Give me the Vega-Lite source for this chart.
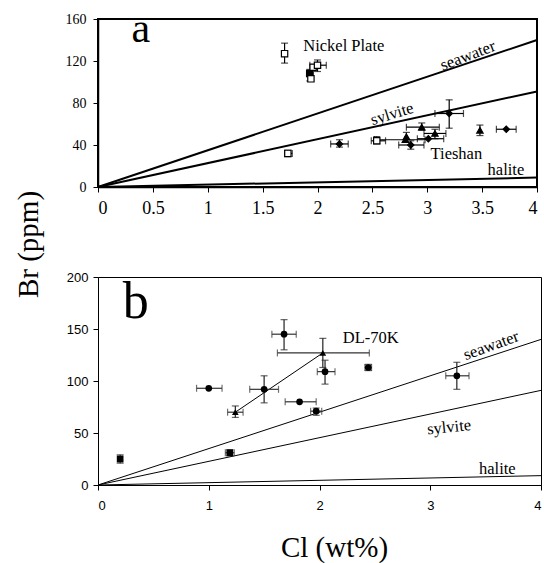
{
  "$schema": "https://vega.github.io/schema/vega-lite/v6.json",
  "padding": {"left": 13, "top": 7, "right": 0, "bottom": 0},
  "datasets": {
    "models": [
      {"mineral": "seawater", "cl": 0, "br": 0},
      {"mineral": "seawater", "cl": 4, "br": 140},
      {"mineral": "sylvite", "cl": 0, "br": 0},
      {"mineral": "sylvite", "cl": 4, "br": 91},
      {"mineral": "halite", "cl": 0, "br": 0},
      {"mineral": "halite", "cl": 4, "br": 9}
    ],
    "a": [
      {"x": 1.70, "y": 127, "xlo": null, "xhi": null, "ylo": 118, "yhi": 137, "kind": "NP"},
      {"x": 1.93, "y": 108, "xlo": 1.90, "xhi": 1.96, "ylo": 101, "yhi": 112, "kind": "NPf"},
      {"x": 1.96, "y": 114, "xlo": null, "xhi": null, "ylo": null, "yhi": null, "kind": "NP"},
      {"x": 2.00, "y": 116, "xlo": 1.93, "xhi": 2.08, "ylo": 110, "yhi": 121, "kind": "NP"},
      {"x": 1.94, "y": 103, "xlo": null, "xhi": null, "ylo": null, "yhi": null, "kind": "NP"},
      {"x": 1.73, "y": 32, "xlo": 1.70, "xhi": 1.77, "ylo": 29, "yhi": 35, "kind": "NP"},
      {"x": 2.54, "y": 44, "xlo": 2.49, "xhi": 2.62, "ylo": 41, "yhi": 48, "kind": "NP"},
      {"x": 2.20, "y": 41, "xlo": 2.12, "xhi": 2.28, "ylo": 38, "yhi": 45, "kind": "TSd"},
      {"x": 2.95, "y": 57, "xlo": 2.81, "xhi": 3.11, "ylo": 54, "yhi": 61, "kind": "TSt"},
      {"x": 2.80, "y": 45, "xlo": 2.52, "xhi": 2.98, "ylo": null, "yhi": null, "kind": "TSt"},
      {"x": 2.85, "y": 40, "xlo": 2.74, "xhi": 2.97, "ylo": 36, "yhi": 44, "kind": "TSd"},
      {"x": 2.81, "y": 48, "xlo": null, "xhi": null, "ylo": 43, "yhi": 52, "kind": "TSt"},
      {"x": 3.01, "y": 46, "xlo": 2.91, "xhi": 3.15, "ylo": null, "yhi": null, "kind": "TSd"},
      {"x": 3.07, "y": 51, "xlo": 2.97, "xhi": 3.17, "ylo": 46, "yhi": 55, "kind": "TSt"},
      {"x": 3.20, "y": 70, "xlo": 3.07, "xhi": 3.33, "ylo": 56, "yhi": 83, "kind": "TSd"},
      {"x": 3.48, "y": 54, "xlo": null, "xhi": null, "ylo": 49, "yhi": 59, "kind": "TSt"},
      {"x": 3.72, "y": 55, "xlo": 3.63, "xhi": 3.81, "ylo": null, "yhi": null, "kind": "TSd"}
    ],
    "b": [
      {"x": 0.20, "y": 25, "xlo": 0.18, "xhi": 0.22, "ylo": 21, "yhi": 29, "kind": "sq"},
      {"x": 1.19, "y": 31, "xlo": 1.15, "xhi": 1.23, "ylo": 28, "yhi": 34, "kind": "sq"},
      {"x": 1.00, "y": 93, "xlo": 0.89, "xhi": 1.12, "ylo": null, "yhi": null, "kind": "circ"},
      {"x": 1.24, "y": 70, "xlo": 1.17, "xhi": 1.31, "ylo": 65, "yhi": 76, "kind": "tri"},
      {"x": 1.50, "y": 92, "xlo": 1.37, "xhi": 1.63, "ylo": 79, "yhi": 105, "kind": "circ"},
      {"x": 1.68, "y": 145, "xlo": 1.57, "xhi": 1.79, "ylo": 130, "yhi": 159, "kind": "circ"},
      {"x": 1.82, "y": 80, "xlo": 1.69, "xhi": 1.97, "ylo": null, "yhi": null, "kind": "circ"},
      {"x": 1.97, "y": 71, "xlo": 1.92, "xhi": 2.02, "ylo": 67, "yhi": 74, "kind": "circ"},
      {"x": 2.03, "y": 127, "xlo": 1.62, "xhi": 2.45, "ylo": 113, "yhi": 141, "kind": "tri"},
      {"x": 2.05, "y": 109, "xlo": 1.98, "xhi": 2.14, "ylo": 97, "yhi": 120, "kind": "circ"},
      {"x": 2.44, "y": 113, "xlo": 2.41, "xhi": 2.47, "ylo": 110, "yhi": 116, "kind": "circ"},
      {"x": 3.24, "y": 105, "xlo": 3.14, "xhi": 3.35, "ylo": 92, "yhi": 118, "kind": "circ"}
    ]
  },
  "vconcat": [
    {
      "width": 439,
      "height": 168,
      "view": {"stroke": "black", "strokeWidth": 2},
      "layer": [
        {
          "data": {"name": "models"},
          "mark": {"type": "line", "color": "black", "strokeWidth": 2},
          "encoding": {
            "x": {"field": "cl", "type": "quantitative", "scale": {"domain": [0, 4]},
              "axis": {"values": [0, 0.5, 1, 1.5, 2, 2.5, 3, 3.5, 4], "format": "~g", "title": null,
                "labelFont": "Liberation Sans Narrow", "labelFontSize": 18, "tickSize": 5, "labelPadding": 7, "domainWidth": 1.5}},
            "y": {"field": "br", "type": "quantitative", "scale": {"domain": [0, 160]},
              "axis": {"values": [0, 40, 80, 120, 160], "format": "d", "title": null,
                "labelFont": "Liberation Sans Narrow", "labelFontSize": 14, "tickSize": 5, "labelPadding": 7, "domainWidth": 1.5}},
            "detail": {"field": "mineral"}
          }
        },
        {
          "data": {"name": "a"},
          "transform": [{"filter": "isValid(datum.xlo)"}],
          "mark": {"type": "errorbar", "color": "black", "thickness": 1.2, "ticks": {"size": 7, "thickness": 1.2}},
          "encoding": {
            "x": {"field": "xlo", "type": "quantitative"},
            "x2": {"field": "xhi"},
            "y": {"field": "y", "type": "quantitative"}
          }
        },
        {
          "data": {"name": "a"},
          "transform": [{"filter": "isValid(datum.ylo)"}],
          "mark": {"type": "errorbar", "color": "black", "thickness": 1.2, "ticks": {"size": 7, "thickness": 1.2}},
          "encoding": {
            "y": {"field": "ylo", "type": "quantitative"},
            "y2": {"field": "yhi"},
            "x": {"field": "x", "type": "quantitative"}
          }
        },
        {
          "data": {"name": "a"},
          "mark": {"type": "point", "filled": true, "stroke": "black", "strokeWidth": 1.2, "size": 40, "opacity": 1},
          "encoding": {
            "x": {"field": "x", "type": "quantitative"},
            "y": {"field": "y", "type": "quantitative"},
            "shape": {"field": "kind", "type": "nominal", "legend": null,
              "scale": {"domain": ["NP", "NPf", "TSd", "TSt"], "range": ["square", "square", "diamond", "triangle-up"]}},
            "fill": {"field": "kind", "type": "nominal", "legend": null,
              "scale": {"domain": ["NP", "NPf", "TSd", "TSt"], "range": ["white", "black", "black", "black"]}}
          }
        },
        {
          "data": {"values": [{"t": "a", "x": 0.39, "y": 138}]},
          "mark": {"type": "text", "font": "Liberation Serif", "fontSize": 42, "align": "center", "baseline": "alphabetic", "color": "black"},
          "encoding": {"x": {"field": "x", "type": "quantitative"}, "y": {"field": "y", "type": "quantitative"}, "text": {"field": "t"}}
        },
        {
          "data": {"values": [{"t": "Nickel Plate", "x": 1.87, "y": 130}, {"t": "Tieshan", "x": 3.03, "y": 27}, {"t": "halite", "x": 3.55, "y": 11.5}]},
          "mark": {"type": "text", "font": "Liberation Serif", "fontSize": 16.5, "align": "left", "baseline": "alphabetic", "color": "black"},
          "encoding": {"x": {"field": "x", "type": "quantitative"}, "y": {"field": "y", "type": "quantitative"}, "text": {"field": "t"}}
        },
        {
          "data": {"values": [{"t": "seawater", "x": 3.37, "y": 125}]},
          "mark": {"type": "text", "font": "Liberation Serif", "fontSize": 16.5, "align": "center", "baseline": "middle", "angle": -21, "color": "black"},
          "encoding": {"x": {"field": "x", "type": "quantitative"}, "y": {"field": "y", "type": "quantitative"}, "text": {"field": "t"}}
        },
        {
          "data": {"values": [{"t": "sylvite", "x": 2.68, "y": 69.5}]},
          "mark": {"type": "text", "font": "Liberation Serif", "fontSize": 16.5, "align": "center", "baseline": "middle", "angle": -17, "color": "black"},
          "encoding": {"x": {"field": "x", "type": "quantitative"}, "y": {"field": "y", "type": "quantitative"}, "text": {"field": "t"}}
        }
      ]
    },
    {
      "width": 443,
      "height": 208,
      "view": {"stroke": "black", "strokeWidth": 1},
      "layer": [
        {
          "data": {"name": "models"},
          "mark": {"type": "line", "color": "black", "strokeWidth": 1},
          "encoding": {
            "x": {"field": "cl", "type": "quantitative", "title": "Cl (wt%)", "scale": {"domain": [0, 4]},
              "axis": {"values": [0, 1, 2, 3, 4], "format": "d", "titleFont": "Liberation Serif", "titleFontSize": 29,
                "titleX": 236, "titleY": 71, "titleBaseline": "alphabetic", "titleAlign": "center",
                "labelFont": "Liberation Sans", "labelFontSize": 13, "tickSize": 5, "labelPadding": 9}},
            "y": {"field": "br", "type": "quantitative", "title": "Br (ppm)", "scale": {"domain": [0, 200]},
              "axis": {"values": [0, 50, 100, 150, 200], "format": "d", "titleFont": "Liberation Serif", "titleFontSize": 29,
                "titleX": -70, "titleY": -33, "titleBaseline": "middle", "titleAlign": "center",
                "labelFont": "Liberation Sans", "labelFontSize": 13, "tickSize": 5, "labelPadding": 5}},
            "detail": {"field": "mineral"}
          }
        },
        {
          "data": {"name": "b"},
          "transform": [{"filter": "datum.kind == 'tri'"}],
          "mark": {"type": "line", "color": "black", "strokeWidth": 1},
          "encoding": {
            "x": {"field": "x", "type": "quantitative", "title": "Cl (wt%)"},
            "y": {"field": "y", "type": "quantitative", "title": "Br (ppm)"}
          }
        },
        {
          "data": {"name": "b"},
          "transform": [{"filter": "isValid(datum.xlo)"}],
          "mark": {"type": "errorbar", "color": "#333333", "thickness": 1.2, "ticks": {"size": 7, "thickness": 1.2}},
          "encoding": {
            "x": {"field": "xlo", "type": "quantitative", "title": "Cl (wt%)"},
            "x2": {"field": "xhi"},
            "y": {"field": "y", "type": "quantitative", "title": "Br (ppm)"}
          }
        },
        {
          "data": {"name": "b"},
          "transform": [{"filter": "isValid(datum.ylo)"}],
          "mark": {"type": "errorbar", "color": "#222222", "thickness": 1.2, "ticks": {"size": 7, "thickness": 1.2}},
          "encoding": {
            "y": {"field": "ylo", "type": "quantitative", "title": "Br (ppm)"},
            "y2": {"field": "yhi"},
            "x": {"field": "x", "type": "quantitative", "title": "Cl (wt%)"}
          }
        },
        {
          "data": {"name": "b"},
          "mark": {"type": "point", "filled": true, "color": "black", "size": 45, "opacity": 1},
          "encoding": {
            "x": {"field": "x", "type": "quantitative", "title": "Cl (wt%)"},
            "y": {"field": "y", "type": "quantitative", "title": "Br (ppm)"},
            "shape": {"field": "kind", "type": "nominal", "legend": null,
              "scale": {"domain": ["sq", "circ", "tri"], "range": ["square", "circle", "triangle-up"]}}
          }
        },
        {
          "data": {"values": [{"t": "b", "x": 0.34, "y": 161}]},
          "mark": {"type": "text", "font": "Liberation Serif", "fontSize": 52, "align": "center", "baseline": "alphabetic", "color": "black"},
          "encoding": {"x": {"field": "x", "type": "quantitative", "title": "Cl (wt%)"}, "y": {"field": "y", "type": "quantitative", "title": "Br (ppm)"}, "text": {"field": "t"}}
        },
        {
          "data": {"values": [{"t": "DL-70K", "x": 2.21, "y": 137}, {"t": "halite", "x": 3.44, "y": 10.6}]},
          "mark": {"type": "text", "font": "Liberation Serif", "fontSize": 16.5, "align": "left", "baseline": "alphabetic", "color": "black"},
          "encoding": {"x": {"field": "x", "type": "quantitative", "title": "Cl (wt%)"}, "y": {"field": "y", "type": "quantitative", "title": "Br (ppm)"}, "text": {"field": "t"}}
        },
        {
          "data": {"values": [{"t": "seawater", "x": 3.55, "y": 134}]},
          "mark": {"type": "text", "font": "Liberation Serif", "fontSize": 16.5, "align": "center", "baseline": "middle", "angle": -20, "color": "black"},
          "encoding": {"x": {"field": "x", "type": "quantitative", "title": "Cl (wt%)"}, "y": {"field": "y", "type": "quantitative", "title": "Br (ppm)"}, "text": {"field": "t"}}
        },
        {
          "data": {"values": [{"t": "sylvite", "x": 3.17, "y": 55.5}]},
          "mark": {"type": "text", "font": "Liberation Serif", "fontSize": 16.5, "align": "center", "baseline": "middle", "angle": -6, "color": "black"},
          "encoding": {"x": {"field": "x", "type": "quantitative", "title": "Cl (wt%)"}, "y": {"field": "y", "type": "quantitative", "title": "Br (ppm)"}, "text": {"field": "t"}}
        }
      ]
    }
  ],
  "spacing": 90,
  "bounds": "flush",
  "resolve": {"scale": {"shape": "independent", "fill": "independent"}},
  "config": {
    "font": "Liberation Sans",
    "view": {"stroke": null},
    "axis": {"grid": false, "domainColor": "black", "tickColor": "black", "labelColor": "black", "titleColor": "black", "titleFontWeight": "normal"}
  }
}
